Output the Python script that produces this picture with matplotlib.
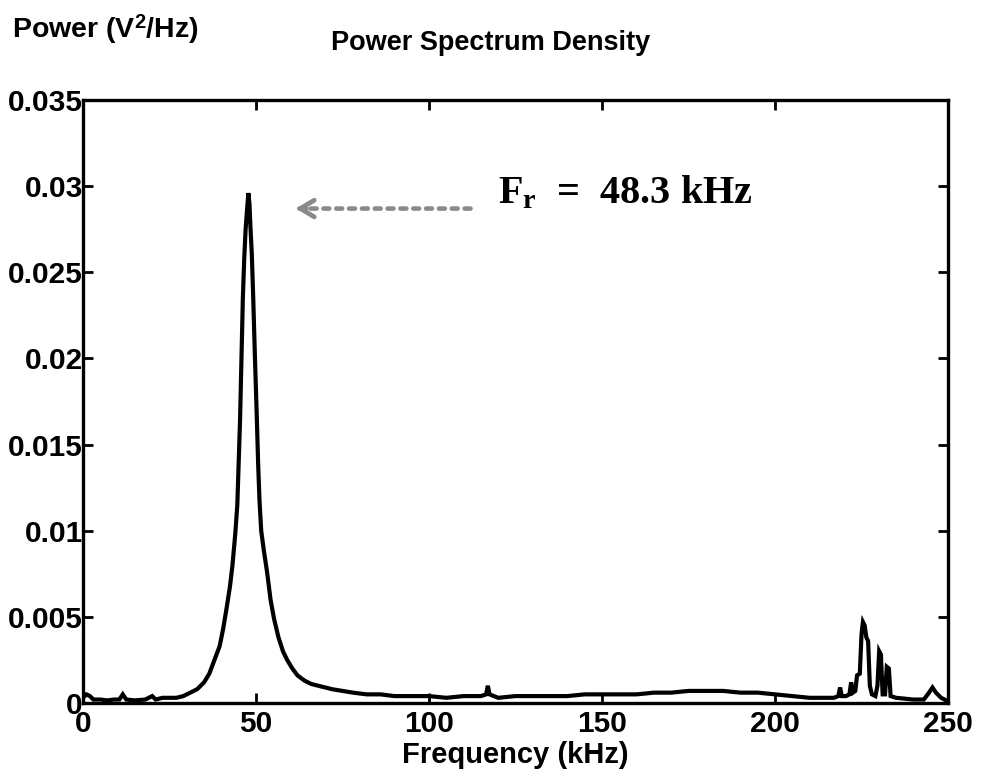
import matplotlib.pyplot as plt
import matplotlib as mpl

mpl.rcParams['font.family'] = ['Liberation Sans', 'DejaVu Sans']
mpl.rcParams['font.weight'] = 'bold'
mpl.rcParams['mathtext.fontset'] = 'custom'
mpl.rcParams['mathtext.rm'] = 'Liberation Serif:bold'
mpl.rcParams['mathtext.bf'] = 'Liberation Serif:bold'
mpl.rcParams['mathtext.it'] = 'Liberation Serif:bold'
mpl.rcParams['mathtext.sf'] = 'Liberation Sans:bold'

# spectrum (kHz, V^2/Hz)
freq_khz = [0, 1, 2, 3, 5, 7, 9, 10.5, 11.5, 12.5, 15, 18, 20, 21, 23, 25, 27, 29,
            31, 33, 35, 36.5, 38, 39.5, 40.5, 41.5, 42.5, 43.2, 44, 44.6, 45, 45.4,
            45.8, 46.2, 46.6, 47.0, 47.4, 47.8, 48.1, 48.4, 48.8, 49.2, 49.7, 50.2,
            50.6, 51.0, 51.5, 52.3, 53.2, 54.2, 55.2, 56.5, 57.8, 59, 60.5, 62, 64,
            66, 68, 70, 72, 75, 78, 82, 86, 90, 95, 100, 105, 110, 115, 116.5, 117,
            117.5, 120, 125, 130, 135, 140, 145, 150, 155, 160, 165, 170, 175, 180,
            185, 190, 195, 200, 205, 210, 214, 217, 218.3, 218.8, 219.3, 220.5,
            221.5, 222, 222.5, 223.2, 223.7, 224.5, 225, 225.4, 225.9, 226.4, 226.9,
            227.4, 228, 229, 229.6, 230.1, 230.6, 231.1, 231.8, 232.3, 232.9, 233.4,
            235, 240, 243, 244.5, 245.5, 246.5, 248, 250]
psd = [0.0003, 0.0005, 0.0004, 0.0002, 0.0002, 0.00015, 0.0002, 0.0002, 0.0005,
       0.0002, 0.00015, 0.0002, 0.0004, 0.0002, 0.0003, 0.0003, 0.0003, 0.0004,
       0.0006, 0.0008, 0.0012, 0.0017, 0.0025, 0.0033, 0.0043, 0.0055, 0.0068,
       0.0080, 0.0098, 0.0115, 0.0140, 0.0165, 0.0200, 0.0235, 0.0258, 0.0275,
       0.0286, 0.0296, 0.0290, 0.0276, 0.0260, 0.0235, 0.0200, 0.0168, 0.0140,
       0.0118, 0.0100, 0.0088, 0.0076, 0.0060, 0.0049, 0.0038, 0.0030, 0.0025,
       0.0020, 0.0016, 0.0013, 0.0011, 0.0010, 0.0009, 0.0008, 0.0007, 0.0006,
       0.0005, 0.0005, 0.0004, 0.0004, 0.0004, 0.0003, 0.0004, 0.0004, 0.0005,
       0.0010, 0.0005, 0.0003, 0.0004, 0.0004, 0.0004, 0.0004, 0.0005, 0.0005,
       0.0005, 0.0005, 0.0006, 0.0006, 0.0007, 0.0007, 0.0007, 0.0006, 0.0006,
       0.0005, 0.0004, 0.0003, 0.0003, 0.0003, 0.0004, 0.0009, 0.0004, 0.0004,
       0.0005, 0.0012, 0.0006, 0.0007, 0.0016, 0.0017, 0.0040, 0.0047, 0.0045,
       0.0038, 0.0036, 0.0010, 0.0005, 0.0004, 0.0010, 0.0030, 0.0028, 0.0005,
       0.0005, 0.0021, 0.0020, 0.0004, 0.0003, 0.0002, 0.0002, 0.0006, 0.0009,
       0.0006, 0.0003, 0.0001]

xticks = [0, 50, 100, 150, 200, 250]
yticks = [0, 0.005, 0.01, 0.015, 0.02, 0.025, 0.03, 0.035]
ytick_labels = ['0', '0.005', '0.01', '0.015', '0.02', '0.025', '0.03', '0.035']

fig = plt.figure(figsize=(9.81, 7.76), dpi=100)
ax = fig.add_axes([0.0846, 0.0941, 0.8818, 0.7770])

ax.plot(freq_khz, psd, color='black', lw=3.0, solid_joinstyle='miter')

ax.set_xlim(0, 250)
ax.set_ylim(0, 0.035)
ax.set_xticks(xticks)
ax.set_yticks(yticks)
ax.set_yticklabels(ytick_labels)
ax.tick_params(direction='in', length=7, width=2, labelsize=21.5,
               top=True, right=True)
ax.tick_params(axis='y', pad=0)
ax.tick_params(axis='x', pad=5)
for lab in ax.get_xticklabels() + ax.get_yticklabels():
    lab.set_fontweight('bold')
for s in ax.spines.values():
    s.set_linewidth(2.4)

ax.set_xlabel('Frequency (kHz)', fontsize=21, fontweight='bold', labelpad=2)
fig.text(0.012, 0.963, r'Power (V$^{\mathsf{2}}$/Hz)', fontsize=20.5,
         fontweight='bold', va='center', ha='left')
fig.text(0.5, 0.945, 'Power Spectrum Density', fontsize=19.5, fontweight='bold',
         va='center', ha='center')

# dotted arrow pointing to the resonance peak
ax.annotate('', xy=(62.5, 0.0287), xytext=(112, 0.0287),
            arrowprops=dict(arrowstyle='-', color='#8a8a8a', lw=3.3,
                            linestyle=(0, (1.3, 1.5)), shrinkA=0, shrinkB=0))
ax.annotate('', xy=(61.5, 0.0287), xytext=(64.5, 0.0287),
            arrowprops=dict(arrowstyle='->,head_length=1.0,head_width=0.6',
                            color='#8a8a8a', lw=3.4, shrinkA=0, shrinkB=0))
ax.text(120, 0.0296, r'$\mathbf{F_r}$  =  48.3 kHz', fontsize=29,
        family='Liberation Serif', fontweight='bold', va='center', ha='left')

fig.savefig('out.png', dpi=100, facecolor='white')
